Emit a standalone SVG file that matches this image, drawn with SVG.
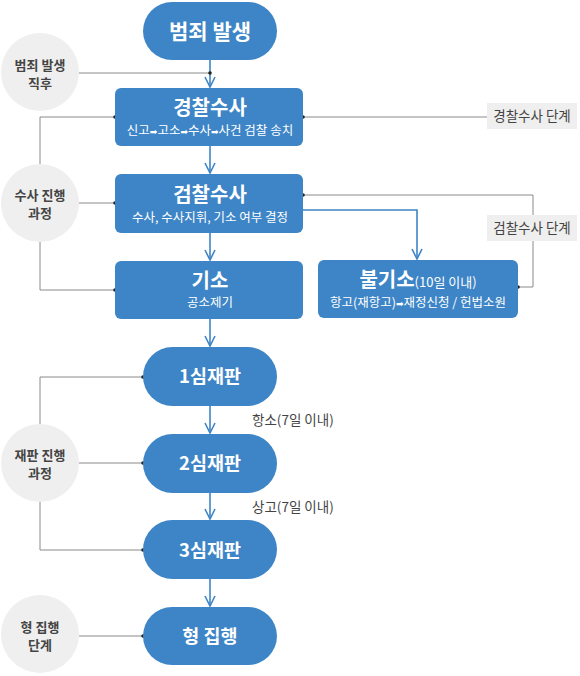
<svg xmlns="http://www.w3.org/2000/svg" width="580" height="676" viewBox="0 0 580 676">
<style>
.node{fill:#3d85c6}
.t{font-family:"Noto Sans CJK KR","Noto Sans",sans-serif;fill:#fff;text-anchor:middle}
.tb{font-weight:700;font-size:20px}
.tp{font-weight:700;font-size:18.5px}
.ts{font-size:12.5px}
.ar{font-size:9px;font-family:"DejaVu Sans",sans-serif}
.circ{fill:#efefef}
.ct{font-family:"Noto Sans CJK KR","Noto Sans",sans-serif;fill:#444;font-size:13px;font-weight:700;text-anchor:middle}
.lab{font-family:"Noto Sans CJK KR","Noto Sans",sans-serif;fill:#444;font-size:13.5px}
.g{fill:none;stroke:#8a8a8a;stroke-width:1}
.b{fill:none;stroke:#3d85c6;stroke-width:1.6}
.dot{fill:#222}
</style>
<defs>
<marker id="arr" viewBox="0 0 12 12" refX="11" refY="6" markerWidth="12" markerHeight="12" markerUnits="userSpaceOnUse" orient="auto">
<path d="M1,1 L11,6 L1,11" fill="none" stroke="#3d85c6" stroke-width="1.6"/>
</marker>
</defs>

<g id="connectors">
<path class="g" d="M79,73 H210"/>
<path class="g" d="M115,117 H40 V164"/>
<path class="g" d="M79,203 H115"/>
<path class="g" d="M40,242 V290 H115"/>
<path class="g" d="M303,117 H487"/>
<path class="g" d="M303,195 H533 V287 H518"/>
<path class="g" d="M40,424 V377 H143"/>
<path class="g" d="M79,463 H143"/>
<path class="g" d="M40,502 V550 H143"/>
<path class="g" d="M79,636 H143"/>
<path class="b" d="M210,60 V87" marker-end="url(#arr)"/>
<path class="b" d="M210,146 V173" marker-end="url(#arr)"/>
<path class="b" d="M210,233 V260" marker-end="url(#arr)"/>
<path class="b" d="M303,210 H417 V259" marker-end="url(#arr)"/>
<path class="b" d="M210,319 V346" marker-end="url(#arr)"/>
<path class="b" d="M210,406 V433" marker-end="url(#arr)"/>
<path class="b" d="M210,493 V519" marker-end="url(#arr)"/>
<path class="b" d="M210,579 V606" marker-end="url(#arr)"/>
<circle class="dot" cx="210" cy="73" r="1.8"/>
<circle class="dot" cx="115" cy="117" r="1.8"/>
<circle class="dot" cx="115" cy="203" r="1.8"/>
<circle class="dot" cx="115" cy="290" r="1.8"/>
<circle class="dot" cx="303" cy="117" r="1.8"/>
<circle class="dot" cx="303" cy="195" r="1.8"/>
<circle class="dot" cx="518" cy="287" r="1.8"/>
<circle class="dot" cx="143" cy="377" r="1.8"/>
<circle class="dot" cx="143" cy="463" r="1.8"/>
<circle class="dot" cx="143" cy="550" r="1.8"/>
<circle class="dot" cx="143" cy="636" r="1.8"/>
<text class="lab" x="252" y="425">항소(7일 이내)</text>
<text class="lab" x="252" y="512">상고(7일 이내)</text>
</g>

<g id="n-crime">
<rect class="node" x="143" y="2" width="134" height="58" rx="29"/>
<text class="t" x="210" y="38.5" font-weight="700" font-size="21">범죄 발생</text>
</g>
<g id="n-police">
<rect class="node" x="115" y="88" width="188" height="58" rx="6"/>
<text class="t tb" x="210" y="115">경찰수사</text>
<text class="t ts" x="210" y="135">신고<tspan class="ar">➡</tspan>고소<tspan class="ar">➡</tspan>수사<tspan class="ar">➡</tspan>사건 검찰 송치</text>
</g>
<g id="n-prosecution">
<rect class="node" x="115" y="174" width="188" height="59" rx="6"/>
<text class="t tb" x="210" y="202">검찰수사</text>
<text class="t ts" x="210" y="221.5">수사, 수사지휘, 기소 여부 결정</text>
</g>
<g id="n-indict">
<rect class="node" x="115" y="261" width="188" height="58" rx="6"/>
<text class="t tb" x="210" y="288">기소</text>
<text class="t ts" x="210" y="307">공소제기</text>
</g>
<g id="n-nonindict">
<rect class="node" x="318" y="260" width="200" height="58" rx="6"/>
<text class="t" x="418" y="287"><tspan font-weight="700" font-size="20">불기소</tspan><tspan font-size="13">(10일 이내)</tspan></text>
<text class="t ts" x="418" y="306.5">항고(재항고)<tspan class="ar">➡</tspan>재정신청 / 헌법소원</text>
</g>
<g id="n-trial1">
<rect class="node" x="143" y="347" width="134" height="59" rx="29.5"/>
<text class="t tp" x="210" y="383">1심재판</text>
</g>
<g id="n-trial2">
<rect class="node" x="143" y="434" width="134" height="59" rx="29.5"/>
<text class="t tp" x="210" y="470">2심재판</text>
</g>
<g id="n-trial3">
<rect class="node" x="143" y="520" width="134" height="59" rx="29.5"/>
<text class="t tp" x="210" y="556.5">3심재판</text>
</g>
<g id="n-exec">
<rect class="node" x="143" y="607" width="134" height="58" rx="29"/>
<text class="t tp" x="210" y="643">형 집행</text>
</g>

<g id="c-after">
<circle class="circ" cx="40" cy="72" r="39"/>
<text class="ct" x="40" y="69.5">범죄 발생</text>
<text class="ct" x="40" y="88">직후</text>
</g>
<g id="c-invest">
<circle class="circ" cx="40" cy="203" r="39"/>
<text class="ct" x="40" y="199.5">수사 진행</text>
<text class="ct" x="40" y="218">과정</text>
</g>
<g id="c-trial">
<circle class="circ" cx="40" cy="463" r="39"/>
<text class="ct" x="40" y="459.5">재판 진행</text>
<text class="ct" x="40" y="478">과정</text>
</g>
<g id="c-exec">
<circle class="circ" cx="40" cy="634" r="39"/>
<text class="ct" x="40" y="631.5">형 집행</text>
<text class="ct" x="40" y="650">단계</text>
</g>

<g id="l-police">
<rect x="487" y="103" width="90" height="26" fill="#efefef"/>
<text class="lab" x="532" y="121" text-anchor="middle">경찰수사 단계</text>
</g>
<g id="l-pros">
<rect x="487" y="215" width="90" height="26" fill="#efefef"/>
<text class="lab" x="532" y="233" text-anchor="middle">검찰수사 단계</text>
</g>
</svg>
